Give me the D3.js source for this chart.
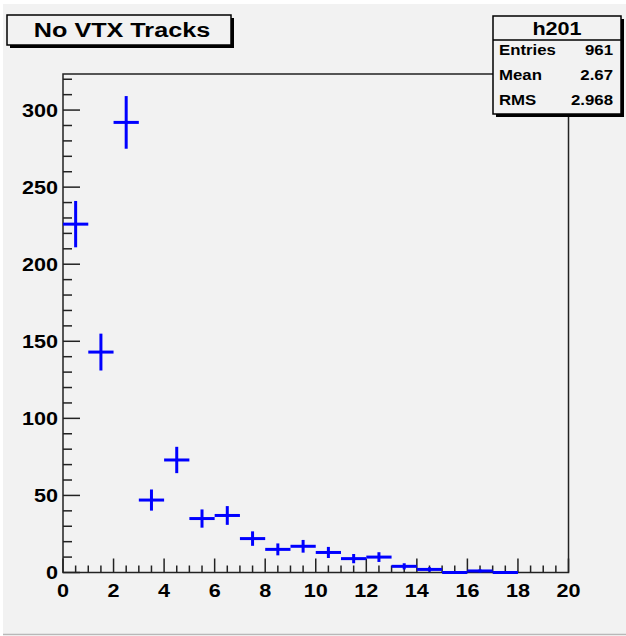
<!DOCTYPE html>
<html>
<head>
<meta charset="utf-8">
<script src="https://cdn.jsdelivr.net/npm/d3@7"></script>
<style>
  html, body { margin: 0; padding: 0; background: #ffffff; }
  svg { display: block; }
  text { font-family: "Liberation Sans", Arial, Helvetica, sans-serif; font-weight: bold; fill: #000; }
</style>
</head>
<body>
<svg id="chart" width="626" height="636"></svg>
<script>
// Histogram h201: number of tracks without a vertex, 1-unit bins from 0
const binLowEdges = [0, 1, 2, 3, 4, 5, 6, 7, 8, 9, 10, 11, 12, 13, 14, 15, 16, 17];
const binCounts   = [226, 143, 292, 47, 73, 35, 37, 22, 15, 17, 13, 9, 10, 4, 2, 0, 1, 0];
const xTickValues = [0, 2, 4, 6, 8, 10, 12, 14, 16, 18, 20];
const yTickValues = [0, 50, 100, 150, 200, 250, 300];
const titleText = "No VTX Tracks";
const statsName = "h201";
const statsLabels = ["Entries", "Mean", "RMS"];
const statsValues = ["961", "2.67", "2.968"];

const svg = d3.select("#chart");
const W = 626, H = 636;
const STRETCH = 1.2; // wide bold face

// text placed at (x, y) and widened horizontally
function wideText(parent, x, y, str, size, anchor) {
  return parent.append("text")
    .attr("transform", `translate(${x},${y}) scale(${STRETCH},1)`)
    .attr("text-anchor", anchor || "start")
    .attr("font-size", size)
    .text(str);
}

// canvas pad
svg.append("rect").attr("x", 3).attr("y", 4).attr("width", W - 3).attr("height", 630)
  .attr("fill", "#f2f2f2");
svg.append("line").attr("x1", 3).attr("x2", W).attr("y1", 634.5).attr("y2", 634.5)
  .attr("stroke", "#b8b8b8").attr("stroke-width", 1.5);

const frame = { left: 63, right: 568.5, top: 74, bottom: 572.5 };

const x = d3.scaleLinear().domain([0, 20]).range([frame.left, frame.right]);
const y = d3.scaleLinear().domain([0, 323.4]).range([frame.bottom, frame.top]);

const axisColor = "#222";

// frame box
svg.append("rect")
  .attr("x", frame.left).attr("y", frame.top)
  .attr("width", frame.right - frame.left).attr("height", frame.bottom - frame.top)
  .attr("fill", "none").attr("stroke", axisColor).attr("stroke-width", 1.5);

// y axis: major ticks every 50, minor every 10, drawn inward
const yAxis = svg.append("g");
const yMinor = d3.range(0, 323, 10).filter(v => v % 50 !== 0);
yAxis.selectAll("line.minor").data(yMinor).join("line")
  .attr("x1", frame.left).attr("x2", frame.left + 9)
  .attr("y1", d => y(d)).attr("y2", d => y(d))
  .attr("stroke", axisColor).attr("stroke-width", 1.5);
yAxis.selectAll("line.major").data(yTickValues).join("line")
  .attr("x1", frame.left).attr("x2", frame.left + 17)
  .attr("y1", d => y(d)).attr("y2", d => y(d))
  .attr("stroke", axisColor).attr("stroke-width", 1.5);
yTickValues.forEach(v => {
  wideText(yAxis, frame.left - 5, y(v) + 6.5, v, 18, "end");
});

// x axis: major ticks every 2, minor every 0.5, drawn inward
const xAxis = svg.append("g");
const xMinor = d3.range(0, 20.01, 0.5).filter(v => v % 2 !== 0);
xAxis.selectAll("line.minor").data(xMinor).join("line")
  .attr("x1", d => x(d)).attr("x2", d => x(d))
  .attr("y1", frame.bottom).attr("y2", frame.bottom - 7)
  .attr("stroke", axisColor).attr("stroke-width", 1.5);
xAxis.selectAll("line.major").data(xTickValues).join("line")
  .attr("x1", d => x(d)).attr("x2", d => x(d))
  .attr("y1", frame.bottom).attr("y2", frame.bottom - 14)
  .attr("stroke", axisColor).attr("stroke-width", 1.5);
xTickValues.forEach(v => {
  wideText(xAxis, x(v), 597, v, 18, "middle");
});

// data: horizontal bar across the bin, vertical bar of +/- sqrt(N)
const bins = binLowEdges.map((lo, i) => ({ lo, hi: lo + 1, n: binCounts[i] }));
const marks = svg.append("g");
marks.selectAll("line.h").data(bins).join("line")
  .attr("x1", d => x(d.lo)).attr("x2", d => x(d.hi))
  .attr("y1", d => y(d.n)).attr("y2", d => y(d.n))
  .attr("stroke", "#0000ff").attr("stroke-width", 3);
marks.selectAll("line.v").data(bins.filter(d => d.n > 0)).join("line")
  .attr("x1", d => x(d.lo + 0.5)).attr("x2", d => x(d.lo + 0.5))
  .attr("y1", d => y(d.n - Math.sqrt(d.n))).attr("y2", d => y(d.n + Math.sqrt(d.n)))
  .attr("stroke", "#0000ff").attr("stroke-width", 3);

// boxed label with a drop shadow on the lower-right
function shadowBox(x0, y0, w, h) {
  svg.append("rect").attr("x", x0 + 3).attr("y", y0 + 3).attr("width", w).attr("height", h)
    .attr("fill", "#000");
  svg.append("rect").attr("x", x0).attr("y", y0).attr("width", w).attr("height", h)
    .attr("fill", "#f2f2f2").attr("stroke", "#000").attr("stroke-width", 1.5);
}

// title
shadowBox(7, 15, 224, 30);
wideText(svg, 122, 37, titleText, 21, "middle");

// statistics box
const sb = { x: 493, y: 16, w: 128, h: 98 };
shadowBox(sb.x, sb.y, sb.w, sb.h);
svg.append("line").attr("x1", sb.x).attr("x2", sb.x + sb.w)
  .attr("y1", 40).attr("y2", 40).attr("stroke", "#000").attr("stroke-width", 1.5);
wideText(svg, sb.x + sb.w / 2, 35, statsName, 18, "middle");
const rowY = [55, 80, 105];
statsLabels.forEach((s, i) => wideText(svg, sb.x + 6, rowY[i], s, 14, "start"));
statsValues.forEach((s, i) => wideText(svg, sb.x + sb.w - 8, rowY[i], s, 14, "end"));
</script>
</body>
</html>
